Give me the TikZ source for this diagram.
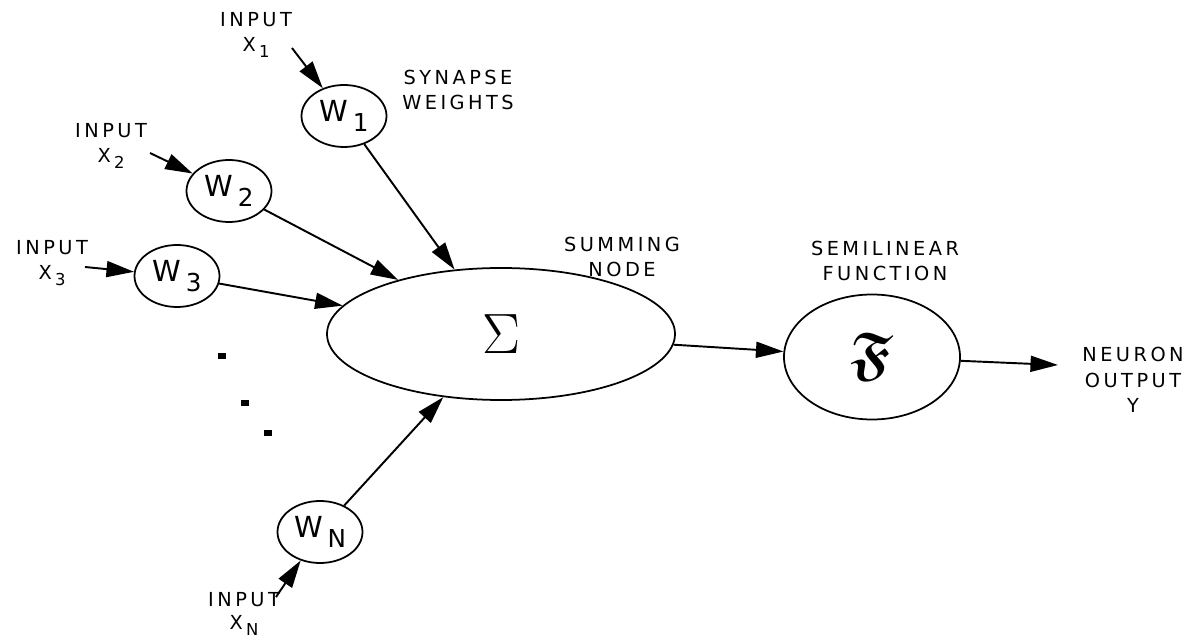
\documentclass[tikz,border=0pt]{standalone}
\usepackage{amsmath,amssymb}
\usepackage{fontspec}
\setmainfont{DejaVu Sans}
\newfontfamily\capsfont{DejaVu Sans}[LetterSpace=18]
\usetikzlibrary{shapes.geometric,arrows.meta}
\newcommand\lowered[1]{\,\raisebox{-0.6ex}{\scalebox{0.85}{#1}}}
\tikzset{
  weight/.style={draw,ellipse,line width=1pt,inner sep=0pt,minimum width=1.7cm,minimum height=1.24cm,font=\fontsize{16.5}{16.5}\selectfont},
  unit/.style={draw,ellipse,line width=1pt,inner sep=0pt},
  caption/.style={align=center,font=\capsfont\fontsize{11}{14.5}\selectfont},
  arr/.style={-{Triangle[length=5.5mm,width=3.2mm]},line width=1.1pt}
}
\begin{document}
\begin{tikzpicture}[x=0.2mm,y=-0.2mm]
  \useasboundingbox (0,0) rectangle (1192,642);
  \node[weight] (w1) at (344,116) {W\lowered{1}};
  \node[weight] (w2) at (229,191) {W\lowered{2}};
  \node[weight] (w3) at (177,276) {W\lowered{3}};
  \node[weight] (wn) at (320,532) {W\lowered{N}};
  \node[unit,minimum width=6.96cm,minimum height=2.64cm] (sum) at (501,334) {\scalebox{1.3}{\Huge$\Sigma$}};
  \node[unit,minimum width=3.52cm,minimum height=2.5cm] (f) at (872,357) {\scalebox{1.35}{\Huge$\boldsymbol{\mathfrak{F}}$}};

  \node[caption] (in1) at (256,35) {INPUT\\X\lowered{1}};
  \node[caption] (in2) at (111,146) {INPUT\\X\lowered{2}};
  \node[caption] (in3) at (52,263) {INPUT\\X\lowered{3}};
  \node[caption,font=\capsfont\fontsize{11}{13}\selectfont] (inn) at (244,614) {INPUT\\X\lowered{N}};
  \node[caption] (syn) at (458,90) {SYNAPSE\\WEIGHTS};
  \node[caption] (summ) at (622,257) {SUMMING\\NODE};
  \node[caption] (semi) at (885,261) {SEMILINEAR\\FUNCTION};
  \node[caption] (out) at (1133,380) {NEURON\\OUTPUT\\Y};

  \coordinate (x1) at (292,48);
  \coordinate (x2) at (150,153);
  \coordinate (x3) at (85,267);
  \coordinate (xn) at (276,597);
  \coordinate (y) at (1058,365);

  \draw[arr] (x1) -- (w1);
  \draw[arr] (x2) -- (w2);
  \draw[arr] (x3) -- (w3);
  \draw[arr] (xn) -- (wn);
  \draw[arr] (w1) -- (sum);
  \draw[arr] (w2) -- (sum);
  \draw[arr] (w3) -- (sum);
  \draw[arr] (wn) -- (sum);
  \draw[arr] (sum) -- (f);
  \draw[arr] (f) -- (y);

  \foreach \p in {(222,356),(245,403),(268,433)}
    \fill \p +(-4,-3) rectangle +(4,3);
\end{tikzpicture}
\end{document}
